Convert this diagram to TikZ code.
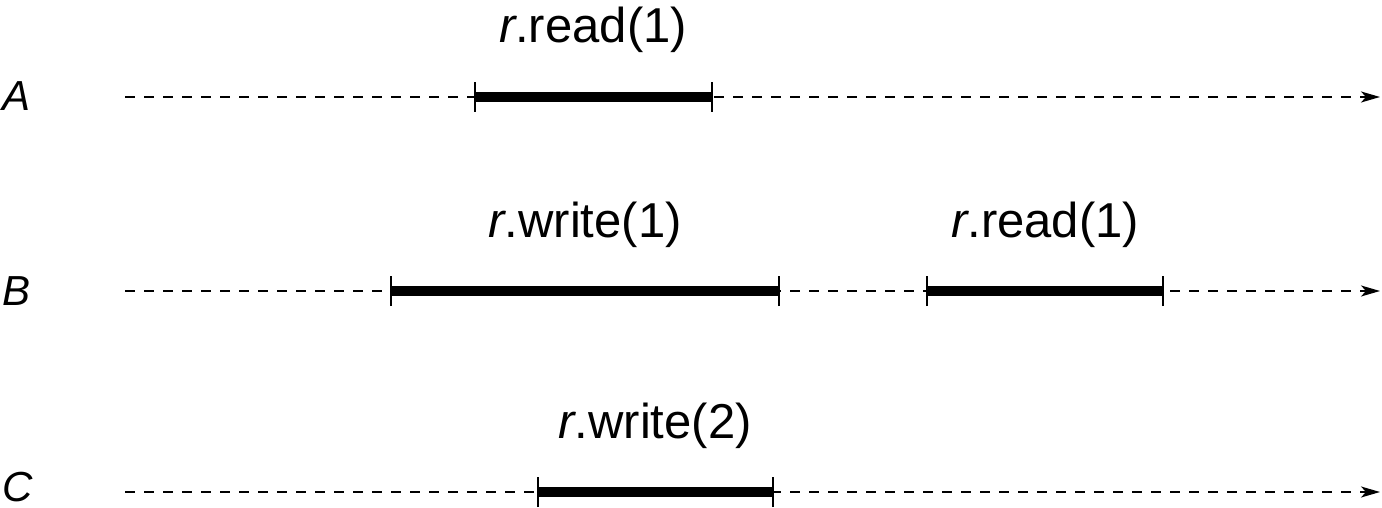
\documentclass[tikz,border=0pt]{standalone}
\usepackage{fontspec}
\setmainfont{Liberation Sans}
\usetikzlibrary{arrows.meta}
\begin{document}
\begin{tikzpicture}[x=1pt,y=-1pt,
  timeline/.style={line width=1.8pt, dash pattern=on 10pt off 9pt, -{Stealth[length=19pt,width=11pt,inset=5pt]}},
  opbar/.style={line width=10.5pt},
  tick/.style={line width=2.3pt},
  oplabel/.style={inner sep=0pt, anchor=base, font=\fontsize{49}{53}\selectfont},
  rowlabel/.style={inner sep=0pt, anchor=base west, font=\fontsize{42}{46}\selectfont\itshape}]
\useasboundingbox (0,0) rectangle (1382,508);
% rows
\foreach \n/\y in {A/97,B/291,C/492}{
  \coordinate (s\n) at (125,\y);
  \coordinate (e\n) at (1380,\y);
}
\node[rowlabel] (lA) at (2,111) {A};
\node[rowlabel] (lB) at (2,305) {B};
\node[rowlabel] (lC) at (2,501) {C};
\draw[timeline] (sA) -- (eA);
\draw[timeline] (sB) -- (eB);
\draw[timeline] (sC) -- (eC);
% operation endpoints
\coordinate (a1) at (475,97);  \coordinate (a2) at (712,97);
\coordinate (b1) at (391,291); \coordinate (b2) at (779,291);
\coordinate (b3) at (927,291); \coordinate (b4) at (1163,291);
\coordinate (c1) at (538,492); \coordinate (c2) at (773,492);
\foreach \p/\q in {a1/a2,b1/b2,b3/b4,c1/c2}{
  \draw[opbar] (\p) -- (\q);
  \draw[tick] ([yshift=-15pt]\p) -- ([yshift=15pt]\p);
  \draw[tick] ([yshift=-15pt]\q) -- ([yshift=15pt]\q);
}
\node[oplabel] (tA) at (593,43) {\textit{r}.read(1)};
\node[oplabel] (tB1) at (585,237) {\textit{r}.write(1)};
\node[oplabel] (tB2) at (1045,237) {\textit{r}.read(1)};
\node[oplabel] (tC) at (655,438) {\textit{r}.write(2)};
\end{tikzpicture}
\end{document}
